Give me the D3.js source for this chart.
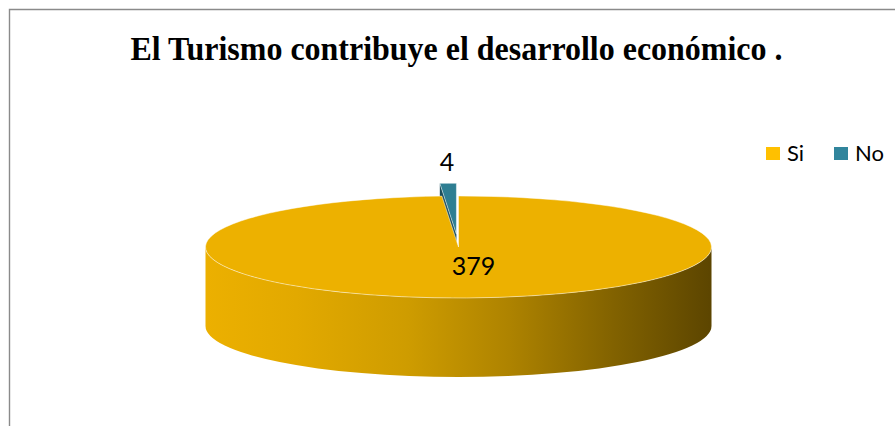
<!DOCTYPE html>
<html>
<head>
<meta charset="utf-8">
<script src="https://cdn.jsdelivr.net/npm/d3@7"></script>
<style>
  html, body { margin: 0; padding: 0; background: #fff; }
  svg { display: block; }
</style>
</head>
<body>
<svg id="chart" width="895" height="426"></svg>
<script>
// Survey answers
const categories = ["Si", "No"];
const values = [379, 4];
const explodeFraction = [0, 0.25];
const topColors = ["#EDB100", "#2E7E92"];
const legendColors = ["#FFC000", "#31859C"];
const faceColors = ["#8A6800", "#1B4E5B"];
const titleText = "El Turismo contribuye el desarrollo económico .";

const svg = d3.select("#chart");
const W = 895, H = 426;

// Chart area frame
svg.append("path")
  .attr("d", `M9.5,${H} L9.5,9.5 L${W},9.5`)
  .attr("fill", "none")
  .attr("stroke", "#8a8a8a")
  .attr("stroke-width", 1.4);

svg.append("text")
  .attr("x", 456.5)
  .attr("y", 60)
  .attr("text-anchor", "middle")
  .attr("font-family", "'Liberation Serif', 'Times New Roman', serif")
  .attr("font-weight", "bold")
  .attr("font-size", 34)
  .attr("textLength", 652)
  .attr("lengthAdjust", "spacingAndGlyphs")
  .attr("fill", "#000")
  .text(titleText);

// 3D pie geometry
const cx = 458.5, cy = 247, rx = 253, ry = 51, depth = 79;

const pie = d3.pie().sort(null).startAngle(0).endAngle(2 * Math.PI)(values);
const slices = pie.map((d, i) => {
  const mid = (d.startAngle + d.endAngle) / 2;
  const e = explodeFraction[i];
  return {
    ...d, i, mid,
    ox: cx + e * rx * Math.sin(mid),
    oy: cy - e * ry * Math.cos(mid)
  };
});

const pt = (s, a, dz = 0) => [s.ox + rx * Math.sin(a), s.oy - ry * Math.cos(a) + dz];

// Horizontal light-to-dark shading of the side wall
const defs = svg.append("defs");
const grad = defs.append("linearGradient")
  .attr("id", "wallSi")
  .attr("gradientUnits", "userSpaceOnUse")
  .attr("x1", cx - rx).attr("x2", cx + rx)
  .attr("y1", 0).attr("y2", 0);
[[0, "#ECB000"], [0.18, "#E2A900"], [0.4, "#CE9C00"], [0.6, "#AE8300"],
 [0.8, "#836300"], [1, "#5C4500"]].forEach(([o, c]) =>
  grad.append("stop").attr("offset", o).attr("stop-color", c));

const gradNo = defs.append("linearGradient")
  .attr("id", "wallNo")
  .attr("gradientUnits", "userSpaceOnUse")
  .attr("x1", cx - rx).attr("x2", cx + rx)
  .attr("y1", 0).attr("y2", 0);
[[0, "#2E7E92"], [1, "#12353E"]].forEach(([o, c]) =>
  gradNo.append("stop").attr("offset", o).attr("stop-color", c));
const wallFill = ["url(#wallSi)", "url(#wallNo)"];

function arcPath(s, a0, a1, dz, sweep) {
  const p = pt(s, a1, dz);
  const large = Math.abs(a1 - a0) > Math.PI ? 1 : 0;
  return `A${rx},${ry} 0 ${large} ${sweep} ${p[0]},${p[1]}`;
}

function topPath(s) {
  const p0 = pt(s, s.startAngle);
  return `M${s.ox},${s.oy} L${p0[0]},${p0[1]} ` +
    arcPath(s, s.startAngle, s.endAngle, 0, 1) + " Z";
}

function outerWall(s) {
  // front half of the rim: angles between 90° and 270°
  const a0 = Math.max(s.startAngle, Math.PI / 2);
  const a1 = Math.min(s.endAngle, 3 * Math.PI / 2);
  if (a1 <= a0) return null;
  const p0 = pt(s, a0);
  const q1 = pt(s, a1, depth);
  return `M${p0[0]},${p0[1]} ` + arcPath(s, a0, a1, 0, 1) +
    ` L${q1[0]},${q1[1]} ` + arcPath(s, a1, a0, depth, 0) + " Z";
}

function radialFace(s, a) {
  const p = pt(s, a);
  return `M${s.ox},${s.oy} L${p[0]},${p[1]} L${p[0]},${p[1] + depth} ` +
    `L${s.ox},${s.oy + depth} Z`;
}

// Back slices first, front slices last
const order = slices.slice().sort((a, b) => Math.cos(b.mid) - Math.cos(a.mid));
const g = svg.append("g");
order.forEach(s => {
  const faces = [];
  if (Math.sin(s.startAngle) < -1e-6) faces.push(s.startAngle);
  if (Math.sin(s.endAngle) > 1e-6) faces.push(s.endAngle);
  faces.forEach(a => g.append("path")
    .attr("d", radialFace(s, a))
    .attr("fill", faceColors[s.i]));
  const w = outerWall(s);
  if (w) g.append("path").attr("d", w).attr("fill", wallFill[s.i]);
  g.append("path")
    .attr("d", topPath(s))
    .attr("fill", topColors[s.i])
    .attr("stroke", "#fff")
    .attr("stroke-width", 0.8)
    .attr("stroke-opacity", 0.6);
});

// Value labels
const labelFont = "Lato, 'Open Sans', sans-serif";
const labelPos = [
  { f: 0.37, dx: 12, dy: 9 },
  { f: 1.39, dx: 2, dy: 8 }
];
slices.forEach(s => {
  const lp = labelPos[s.i];
  const x = s.ox + lp.f * rx * Math.sin(s.mid) + lp.dx;
  const y = s.oy - lp.f * ry * Math.cos(s.mid) + lp.dy;
  svg.append("text")
    .attr("x", x).attr("y", y)
    .attr("text-anchor", "middle")
    .attr("font-family", labelFont)
    .attr("font-size", 25)
    .attr("fill", "#000")
    .text(s.data);
});

// Legend
const legend = svg.append("g").attr("transform", "translate(766,147)");
const legendX = [0, 68];
categories.forEach((c, i) => {
  const li = legend.append("g").attr("transform", `translate(${legendX[i]},0)`);
  li.append("rect").attr("width", 14).attr("height", 13).attr("fill", legendColors[i]);
  li.append("text")
    .attr("x", 21).attr("y", 14)
    .attr("font-family", labelFont)
    .attr("font-size", 22)
    .attr("fill", "#000")
    .text(c);
});
</script>
</body>
</html>
